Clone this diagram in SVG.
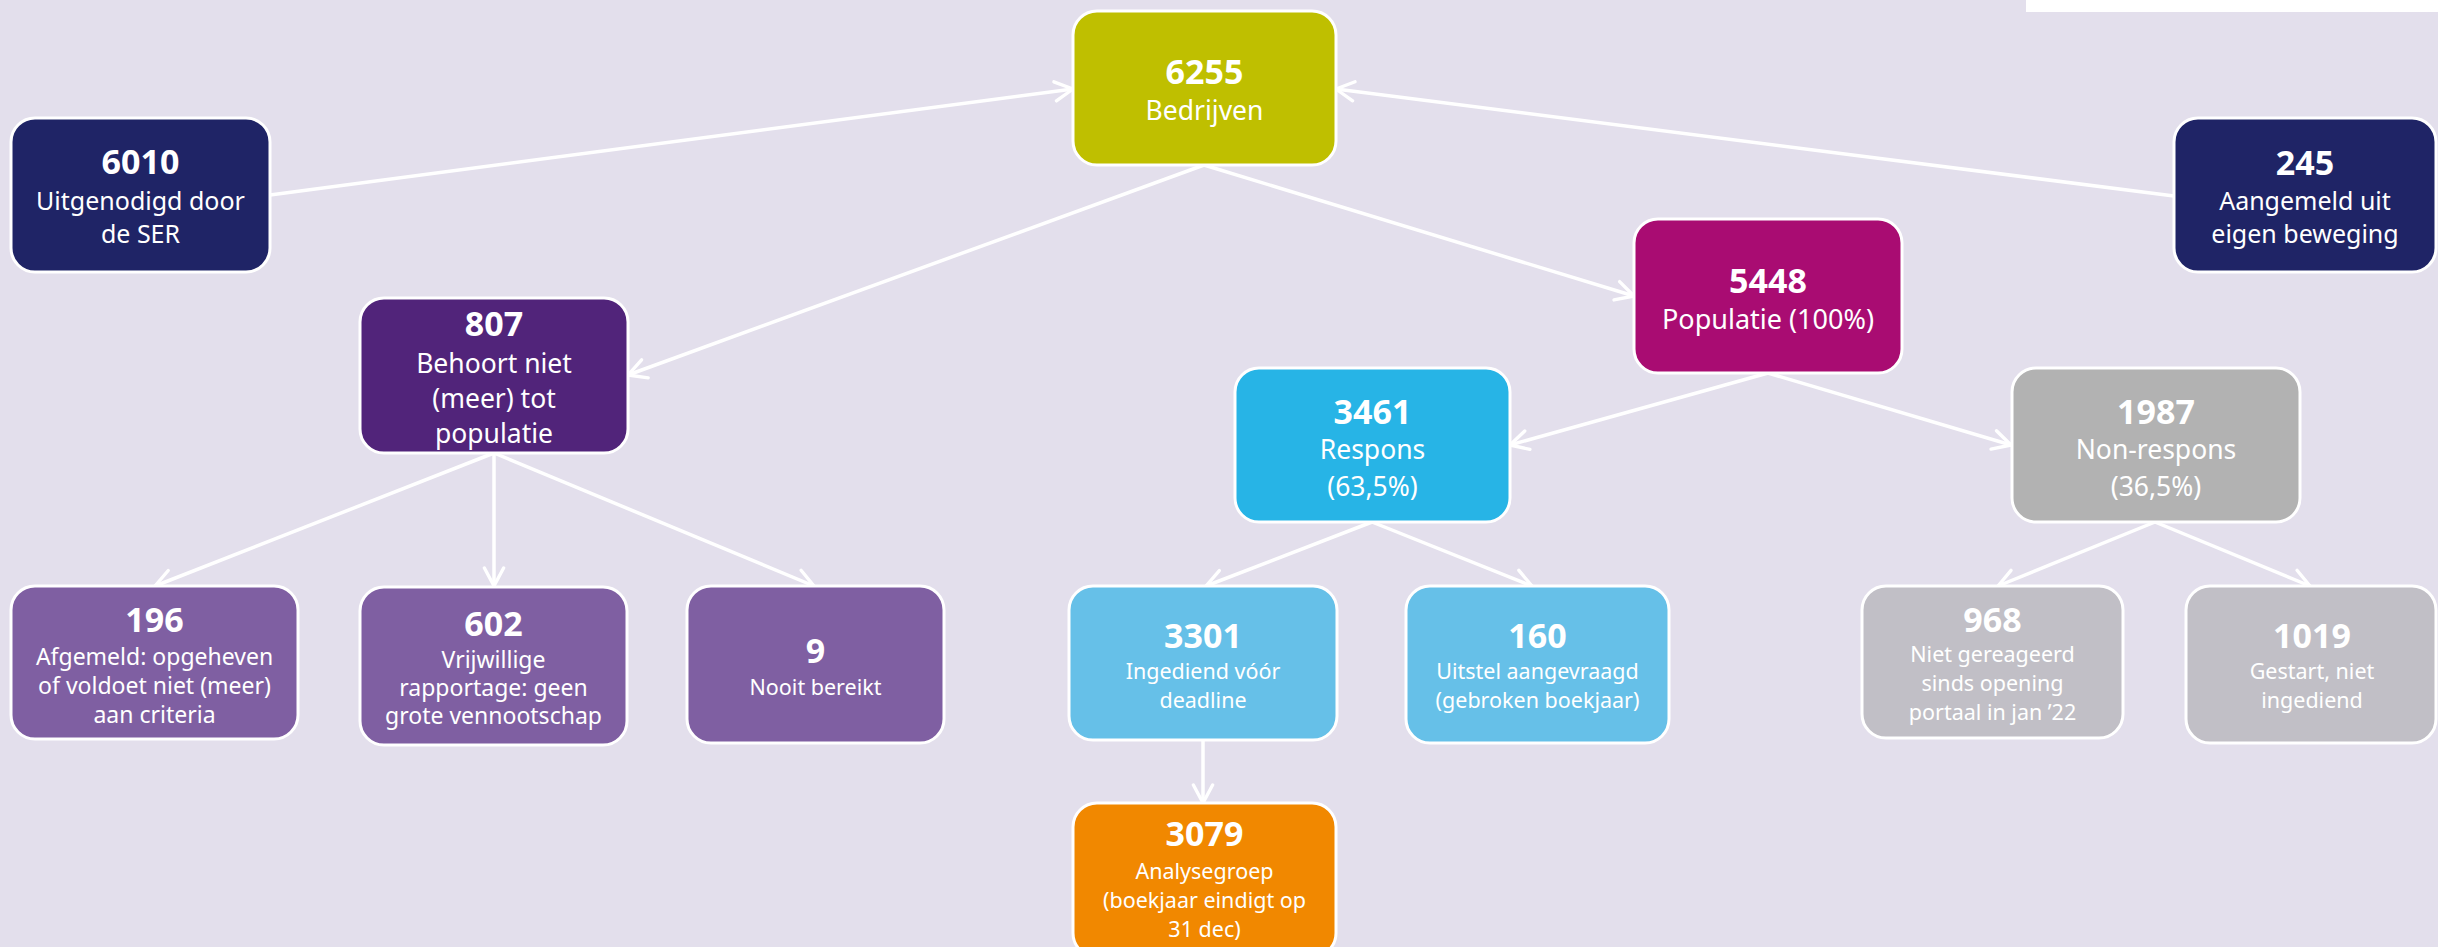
<svg xmlns="http://www.w3.org/2000/svg" width="2438" height="947" viewBox="0 0 2438 947">
<style>
.box{stroke:#FFFFFF;stroke-width:3}
.num{font-family:"Noto Sans","Liberation Sans",sans-serif;font-weight:bold;font-size:34px;fill:#FFFFFF;text-anchor:middle}
.lbl{font-family:"Noto Sans","Liberation Sans",sans-serif;font-size:25px;fill:#FFFFFF;text-anchor:middle}
.sm{font-size:21.5px}
.md{font-size:23px}
.lg{font-size:26.5px}
.conn{stroke:#FFFFFF;stroke-width:3.5;fill:none;marker-end:url(#arr)}
</style>
<defs>
<marker id="arr" viewBox="0 0 20 20" refX="18" refY="10" markerWidth="24" markerHeight="24" markerUnits="userSpaceOnUse" orient="auto">
<path d="M3,2 L18,10 L3,18" fill="none" stroke="#FFFFFF" stroke-width="2.8" stroke-linecap="round" stroke-linejoin="round"/>
</marker>
</defs>
<rect x="0" y="0" width="2438" height="947" fill="#E3DFEC"/>
<rect x="2026" y="0" width="412" height="12" fill="#FFFFFF"/>
<g id="connectors">
<line class="conn" x1="270" y1="195" x2="1073" y2="89"/>
<line class="conn" x1="2174" y1="196" x2="1336" y2="89"/>
<line class="conn" x1="1204" y1="165" x2="628" y2="375"/>
<line class="conn" x1="1204" y1="165" x2="1634" y2="296"/>
<line class="conn" x1="494" y1="453" x2="155" y2="586"/>
<line class="conn" x1="494" y1="453" x2="494" y2="586"/>
<line class="conn" x1="494" y1="453" x2="814" y2="586"/>
<line class="conn" x1="1768" y1="373" x2="1510" y2="445"/>
<line class="conn" x1="1768" y1="373" x2="2011" y2="445"/>
<line class="conn" x1="1372" y1="522" x2="1206" y2="586"/>
<line class="conn" x1="1372" y1="522" x2="1532" y2="586"/>
<line class="conn" x1="2155" y1="522" x2="1998" y2="586"/>
<line class="conn" x1="2155" y1="522" x2="2310" y2="586"/>
<line class="conn" x1="1203" y1="740" x2="1203" y2="803"/>
</g>
<g id="n6255">
<rect class="box" x="1073" y="11" width="263" height="154" rx="24" fill="#BFBF00"/>
<text class="num" x="1204.5" y="84">6255</text>
<text class="lbl lg" x="1204.5" y="120">Bedrijven</text>
</g>
<g id="n6010">
<rect class="box" x="11" y="118" width="259" height="154" rx="24" fill="#1F2466"/>
<text class="num" x="140.5" y="174">6010</text>
<text class="lbl" x="140.5" y="210">Uitgenodigd door</text>
<text class="lbl" x="140.5" y="243">de SER</text>
</g>
<g id="n245">
<rect class="box" x="2174" y="118" width="262" height="154" rx="24" fill="#1F2466"/>
<text class="num" x="2305" y="175">245</text>
<text class="lbl" x="2305" y="210">Aangemeld uit</text>
<text class="lbl" x="2305" y="243">eigen beweging</text>
</g>
<g id="n807">
<rect class="box" x="360" y="298" width="268" height="155" rx="24" fill="#51247A"/>
<text class="num" x="494" y="336">807</text>
<text class="lbl lg" x="494" y="373">Behoort niet</text>
<text class="lbl lg" x="494" y="408">(meer) tot</text>
<text class="lbl lg" x="494" y="443">populatie</text>
</g>
<g id="n5448">
<rect class="box" x="1634" y="219" width="268" height="154" rx="24" fill="#A90C72"/>
<text class="num" x="1768" y="293">5448</text>
<text class="lbl" x="1768" y="329" style="font-size:27px">Populatie (100%)</text>
</g>
<g id="n3461">
<rect class="box" x="1235" y="368" width="275" height="154" rx="24" fill="#27B4E6"/>
<text class="num" x="1372.5" y="424">3461</text>
<text class="lbl lg" x="1372.5" y="459">Respons</text>
<text class="lbl lg" x="1372.5" y="496">(63,5%)</text>
</g>
<g id="n1987">
<rect class="box" x="2012" y="368" width="288" height="154" rx="24" fill="#B2B2B2"/>
<text class="num" x="2156" y="424">1987</text>
<text class="lbl lg" x="2156" y="459">Non-respons</text>
<text class="lbl lg" x="2156" y="496">(36,5%)</text>
</g>
<g id="n196">
<rect class="box" x="11" y="586" width="287" height="153" rx="24" fill="#7F5FA2"/>
<text class="num" x="154.5" y="632">196</text>
<text class="lbl md" x="154.5" y="665">Afgemeld: opgeheven</text>
<text class="lbl md" x="154.5" y="694">of voldoet niet (meer)</text>
<text class="lbl md" x="154.5" y="723">aan criteria</text>
</g>
<g id="n602">
<rect class="box" x="360" y="587" width="267" height="158" rx="24" fill="#7F5FA2"/>
<text class="num" x="493.5" y="636">602</text>
<text class="lbl md" x="493.5" y="668">Vrijwillige</text>
<text class="lbl md" x="493.5" y="696">rapportage: geen</text>
<text class="lbl md" x="493.5" y="724">grote vennootschap</text>
</g>
<g id="n9">
<rect class="box" x="687" y="586" width="257" height="157" rx="24" fill="#7F5FA2"/>
<text class="num" x="815.5" y="663">9</text>
<text class="lbl sm" x="815.5" y="695">Nooit bereikt</text>
</g>
<g id="n3301">
<rect class="box" x="1069" y="586" width="268" height="154" rx="24" fill="#66C0E8"/>
<text class="num" x="1203" y="648">3301</text>
<text class="lbl sm" x="1203" y="679">Ingediend vóór</text>
<text class="lbl sm" x="1203" y="708">deadline</text>
</g>
<g id="n160">
<rect class="box" x="1406" y="586" width="263" height="157" rx="24" fill="#66C0E8"/>
<text class="num" x="1537.5" y="648">160</text>
<text class="lbl sm" x="1537.5" y="679">Uitstel aangevraagd</text>
<text class="lbl sm" x="1537.5" y="708">(gebroken boekjaar)</text>
</g>
<g id="n968">
<rect class="box" x="1862" y="586" width="261" height="152" rx="24" fill="#C1BFC6"/>
<text class="num" x="1992.5" y="632">968</text>
<text class="lbl sm" x="1992.5" y="662">Niet gereageerd</text>
<text class="lbl sm" x="1992.5" y="691">sinds opening</text>
<text class="lbl sm" x="1992.5" y="720">portaal in jan ’22</text>
</g>
<g id="n1019">
<rect class="box" x="2186" y="586" width="250" height="157" rx="24" fill="#C1BFC6"/>
<text class="num" x="2312" y="648">1019</text>
<text class="lbl sm" x="2312" y="679">Gestart, niet</text>
<text class="lbl sm" x="2312" y="708">ingediend</text>
</g>
<g id="n3079">
<rect class="box" x="1073" y="803" width="263" height="154" rx="24" fill="#F18800"/>
<text class="num" x="1204.5" y="846">3079</text>
<text class="lbl sm" x="1204.5" y="879">Analysegroep</text>
<text class="lbl sm" x="1204.5" y="908">(boekjaar eindigt op</text>
<text class="lbl sm" x="1204.5" y="937">31 dec)</text>
</g>
</svg>
